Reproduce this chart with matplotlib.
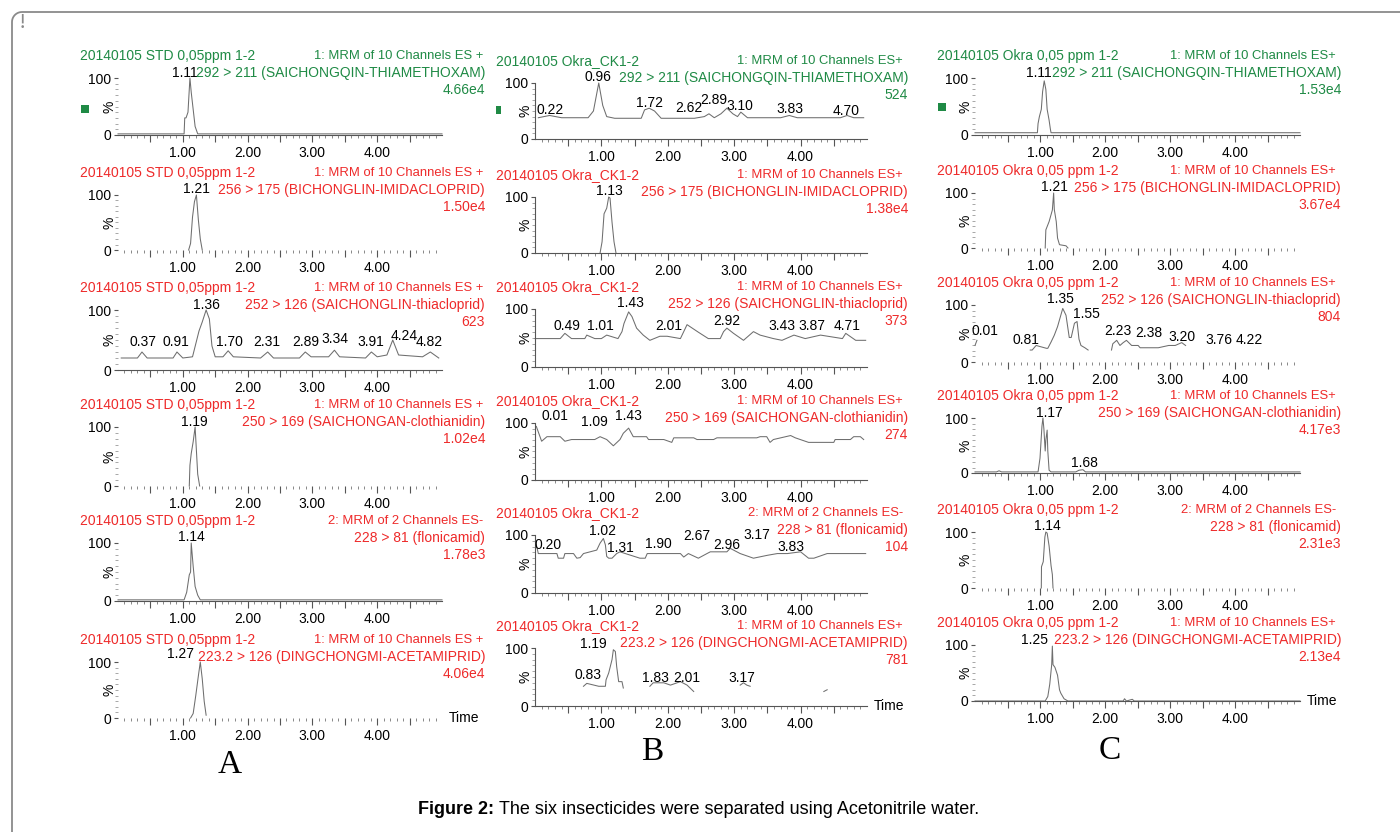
import numpy as np
import matplotlib
matplotlib.use("Agg")
import matplotlib.pyplot as plt
from matplotlib.patches import Rectangle
from matplotlib.lines import Line2D
from matplotlib.text import Annotation

nan = np.nan

# ---- column A : standard 0.05 ppm ----
A1_T = [0.0, 1.02, 1.03, 1.05, 1.08, 1.11, 1.13, 1.16, 1.19, 1.23, 5.0]
A1_Y = [2, 2, 30, 30, 40, 100, 75, 45, 15, 2, 2]
A1_LAB = [("1.11", 1.03, 109)]

A2_T = [1.09, 1.12, 1.15, 1.18, 1.21, 1.24, 1.27, 1.30]
A2_Y = [0, 12, 60, 88, 100, 55, 20, 0]
A2_LAB = [("1.21", 1.21, 110)]

A3_T = [0.05, 0.30, 0.37, 0.45, 0.85, 0.91, 1.00, 1.15, 1.25, 1.30, 1.36, 1.41, 1.45, 1.50,
        1.62, 1.70, 1.78, 2.20, 2.31, 2.40, 2.80, 2.89, 2.98, 3.25, 3.34, 3.42, 3.82, 3.91,
        4.00, 4.15, 4.24, 4.33, 4.70, 4.82, 4.95]
A3_Y = [20, 20, 30, 20, 20, 30, 20, 22, 65, 80, 100, 85, 40, 22, 22, 32, 22, 20, 30, 20,
        20, 30, 22, 22, 33, 22, 20, 30, 22, 25, 50, 25, 22, 30, 20]
A3_LAB = [("0.37", 0.39, 47), ("0.91", 0.90, 47), ("1.36", 1.36, 108), ("1.70", 1.72, 47),
          ("2.31", 2.29, 47), ("2.89", 2.90, 47), ("3.34", 3.34, 51), ("3.91", 3.90, 47),
          ("4.24", 4.42, 57), ("4.82", 4.80, 47)]

A4_T = [1.10, 1.11, 1.13, 1.16, 1.19, 1.21, 1.23, 1.26]
A4_Y = [0, 35, 55, 75, 100, 60, 20, 0]
A4_LAB = [("1.19", 1.18, 109)]

A5_T = [0.0, 1.02, 1.06, 1.10, 1.12, 1.13, 1.16, 1.19, 1.23, 1.27, 5.0]
A5_Y = [2, 2, 15, 45, 50, 100, 60, 25, 10, 2, 2]
A5_LAB = [("1.14", 1.13, 110)]

A6_T = [1.12, 1.16, 1.20, 1.24, 1.27, 1.30, 1.33, 1.36]
A6_Y = [0, 8, 40, 75, 100, 70, 30, 5]
A6_LAB = [("1.27", 0.97, 114)]

# ---- column B : okra blank ----
B1_T = [0.05, 0.22, 0.40, 0.80, 0.88, 0.96, 1.02, 1.08, 1.20, 1.60, 1.65, 1.72, 1.80, 1.90,
        2.40, 2.55, 2.62, 2.70, 2.80, 2.89, 2.98, 3.05, 3.10, 3.20, 3.70, 3.83, 3.95, 4.60,
        4.70, 4.80, 4.95]
B1_Y = [38, 42, 38, 38, 50, 100, 60, 40, 37, 37, 52, 55, 50, 37, 37, 40, 45, 38, 45, 55,
        45, 40, 48, 38, 38, 42, 38, 38, 42, 38, 38]
B1_LAB = [("0.22", 0.23, 51), ("0.96", 0.95, 111), ("1.72", 1.72, 65), ("2.62", 2.31, 55),
          ("2.89", 2.69, 69), ("3.10", 3.09, 59), ("3.83", 3.84, 54), ("4.70", 4.68, 50)]

B2_T = [0.98, 1.01, 1.04, 1.08, 1.11, 1.13, 1.16, 1.19, 1.22]
B2_Y = [0, 20, 70, 80, 100, 98, 55, 20, 0]
B2_LAB = [("1.13", 1.12, 110)]

B3_T = [0.0, 0.38, 0.45, 0.55, 0.75, 0.78, 0.9, 1.0, 1.08, 1.25, 1.31, 1.34, 1.41, 1.46,
        1.53, 1.63, 1.73, 1.88, 1.99, 2.19, 2.24, 2.29, 2.46, 2.61, 2.79, 2.84, 2.89, 2.99,
        3.14, 3.29, 3.39, 3.59, 3.72, 3.90, 4.07, 4.30, 4.63, 4.68, 4.83, 4.98]
B3_Y = [49, 49, 58, 49, 49, 55, 49, 49, 55, 49, 61, 75, 95, 87, 67, 55, 46, 53, 53, 49,
        61, 73, 60, 49, 49, 61, 67, 58, 46, 61, 55, 49, 46, 55, 49, 55, 49, 58, 46, 46]
B3_LAB = [("0.49", 0.48, 70), ("1.01", 0.98, 70), ("1.43", 1.43, 110), ("2.01", 2.01, 70),
          ("2.92", 2.89, 80), ("3.43", 3.72, 70), ("3.87", 4.17, 70), ("4.71", 4.70, 70)]

B4_T = [0.02, 0.10, 0.18, 0.38, 0.45, 0.55, 0.90, 0.98, 1.08, 1.18, 1.28, 1.33, 1.41, 1.48,
        1.68, 1.71, 1.94, 2.06, 2.09, 2.39, 2.44, 2.69, 2.74, 3.34, 3.39, 3.49, 3.54, 3.59,
        3.85, 3.92, 4.12, 4.50, 4.52, 4.75, 4.80, 4.90, 4.95]
B4_Y = [94, 68, 76, 76, 68, 71, 71, 76, 71, 60, 71, 82, 91, 76, 76, 71, 71, 66, 74, 74,
        71, 71, 74, 74, 76, 76, 66, 71, 78, 74, 66, 66, 71, 71, 76, 76, 71]
B4_LAB = [("0.01", 0.30, 112), ("1.09", 0.90, 101), ("1.43", 1.41, 112)]

B5_T = [0.02, 0.05, 0.33, 0.35, 0.43, 0.45, 0.58, 0.63, 0.68, 0.73, 0.83, 0.93, 0.98, 1.03,
        1.06, 1.08, 1.11, 1.16, 1.23, 1.28, 1.36, 1.58, 1.66, 1.69, 1.99, 2.09, 2.19, 2.24,
        2.31, 2.46, 2.59, 2.64, 2.89, 2.94, 3.09, 3.29, 3.50, 3.65, 3.80, 4.00, 4.12, 4.20,
        4.40, 4.65, 4.98]
B5_Y = [83, 68, 68, 60, 60, 68, 68, 60, 61, 68, 71, 74, 86, 94, 83, 63, 60, 60, 68, 71,
        68, 60, 60, 68, 68, 68, 68, 62, 68, 60, 68, 71, 71, 77, 68, 60, 65, 68, 68, 71,
        60, 60, 68, 68, 68]
B5_LAB = [("0.20", 0.20, 83), ("1.02", 1.01, 107), ("1.31", 1.28, 77), ("1.90", 1.86, 84),
          ("2.67", 2.44, 98), ("2.96", 2.89, 83), ("3.17", 3.34, 100), ("3.83", 3.85, 80)]

B6_T = [0.73, 0.78, 0.96, 1.06, 1.07, 1.11, 1.16, 1.18, 1.21, 1.23, 1.26, 1.31, 1.33, nan,
        1.73, 1.78, 1.94, 2.04, 2.19, 2.29, 2.39, nan, 3.09, 3.14, 3.19, 3.24, nan, 4.35, 4.40]
B6_Y = [34, 39, 34, 34, 45, 57, 80, 97, 94, 68, 42, 42, 31, nan,
        34, 40, 40, 36, 42, 36, 25, nan, 36, 40, 36, 34, nan, 25, 28]
B6_LAB = [("0.83", 0.80, 54), ("1.19", 0.88, 107), ("1.83", 1.81, 48), ("2.01", 2.29, 48),
          ("3.17", 3.12, 49)]

# ---- column C : okra spiked 0.05 ppm ----
C1_T = [0.0, 0.96, 0.97, 0.99, 1.02, 1.04, 1.065, 1.09, 1.11, 1.14, 1.16, 1.17, 5.0]
C1_Y = [4, 4, 20, 32, 45, 76, 95, 80, 45, 26, 10, 4, 4]
C1_LAB = [("1.11", 0.98, 109)]

C2_T = [1.08, 1.09, 1.14, 1.19, 1.21, 1.22, 1.25, 1.27, 1.30, 1.40, 1.43]
C2_Y = [0, 33, 48, 69, 100, 70, 48, 18, 6, 4, 0]
C2_LAB = [("1.21", 1.22, 111)]

C3_T = [0.0, 0.03, nan, 0.85, 0.88, 0.94, 1.10, 1.12, 1.17, 1.22, 1.27, 1.32, 1.35, 1.40,
        1.45, 1.48, 1.53, 1.57, 1.60, 1.63, 1.69, 1.74, nan, 2.10, 2.12, 2.18, 2.23, 2.28,
        2.33, 2.41, 2.51, 2.54, 2.61, 2.82, 2.98, 3.08, 3.18, 3.24]
C3_Y = [29, 38, nan, 21, 21, 29, 24, 24, 35, 47, 62, 82, 94, 82, 43, 43, 68, 71, 40, 29,
        25, 21, nan, 21, 32, 38, 29, 34, 38, 29, 29, 25, 25, 25, 29, 29, 34, 29]
C3_LAB = [("0.01", 0.16, 55), ("0.81", 0.78, 39), ("1.35", 1.31, 110), ("1.55", 1.71, 85),
          ("2.23", 2.20, 55), ("2.38", 2.67, 51), ("3.20", 3.18, 44), ("3.76", 3.75, 39),
          ("4.22", 4.22, 39)]

C4_T = [0.0, 0.33, 0.37, 0.41, 0.97, 1.00, 1.03, 1.045, 1.06, 1.08, 1.09, 1.11, 1.12, 1.14,
        1.17, 1.55, 1.60, 1.66, 1.70, 5.0]
C4_Y = [2, 2, 4, 2, 2, 27, 85, 100, 80, 40, 60, 78, 40, 5, 2, 2, 5, 6, 2, 2]
C4_LAB = [("1.17", 1.14, 110), ("1.68", 1.68, 18)]

C5_T = [1.02, 1.023, 1.05, 1.075, 1.09, 1.11, 1.14, 1.17, 1.19, 1.20]
C5_Y = [0, 38, 47, 91, 100, 98, 75, 40, 24, 0]
C5_LAB = [("1.14", 1.12, 110)]

C6_T = [0.0, 1.08, 1.12, 1.15, 1.18, 1.19, 1.20, 1.23, 1.27, 1.30, 1.32, 1.37, 1.43, 2.28,
        2.30, 2.33, 2.42, 2.45, 2.48, 5.0]
C6_Y = [0, 0, 8, 30, 65, 98, 65, 60, 46, 20, 14, 4, 0, 0, 4, 0, 3, 0, 0, 0]
C6_LAB = [("1.25", 0.91, 109)]

COMPOUNDS = ["292 > 211 (SAICHONGQIN-THIAMETHOXAM)",
             "256 > 175 (BICHONGLIN-IMIDACLOPRID)",
             "252 > 126 (SAICHONGLIN-thiacloprid)",
             "250 > 169 (SAICHONGAN-clothianidin)",
             "228 > 81 (flonicamid)",
             "223.2 > 126 (DINGCHONGMI-ACETAMIPRID)"]
A_SCALE = ["4.66e4", "1.50e4", "623", "1.02e4", "1.78e3", "4.06e4"]
B_SCALE = ["524", "1.38e4", "373", "274", "104", "781"]
C_SCALE = ["1.53e4", "3.67e4", "804", "4.17e3", "2.31e3", "2.13e4"]
SAMPLES = ["20140105 STD 0,05ppm 1-2", "20140105 Okra_CK1-2", "20140105 Okra 0,05 ppm 1-2"]
LETTERS = ["A", "B", "C"]

# ---- layout (pixels) ----
W, H = 1400, 832
GREEN = "#1f8a45"
RED = "#ee2a2a"
TRACE = "#6e6e6e"
FAM = ["Liberation Sans", "DejaVu Sans"]
FS = 10
FS_MRM = 9.4

columns = [
    dict(left=118, right=442, name_x=80, txt_r=485, mrm_r=483, es="ES +",
         rows=[(135, 78), (250, 195), (370, 310), (486, 427), (601, 543), (718, 662)],
         data=[(A1_T, A1_Y, A1_LAB), (A2_T, A2_Y, A2_LAB), (A3_T, A3_Y, A3_LAB),
               (A4_T, A4_Y, A4_LAB), (A5_T, A5_Y, A5_LAB), (A6_T, A6_Y, A6_LAB)],
         scale=A_SCALE, bottom=[True, False, True, False, True, False], leftspine=False,
         square=(81, 105, 8, 8), letter=(230, 765)),
    dict(left=535, right=867, name_x=496, txt_r=908, mrm_r=903, es="ES+",
         rows=[(139, 83), (253, 197), (367, 309), (480, 423), (593, 535), (706, 648)],
         data=[(B1_T, B1_Y, B1_LAB), (B2_T, B2_Y, B2_LAB), (B3_T, B3_Y, B3_LAB),
               (B4_T, B4_Y, B4_LAB), (B5_T, B5_Y, B5_LAB), (B6_T, B6_Y, B6_LAB)],
         scale=B_SCALE, bottom=[True] * 6, leftspine=True,
         square=(496, 106, 5, 8), letter=(652, 752)),
    dict(left=975, right=1300, name_x=937, txt_r=1341, mrm_r=1336, es="ES+",
         rows=[(135, 78), (248, 193), (362, 305), (473, 418), (588, 532), (701, 645)],
         data=[(C1_T, C1_Y, C1_LAB), (C2_T, C2_Y, C2_LAB), (C3_T, C3_Y, C3_LAB),
               (C4_T, C4_Y, C4_LAB), (C5_T, C5_Y, C5_LAB), (C6_T, C6_Y, C6_LAB)],
         scale=C_SCALE, bottom=[True, False, False, True, False, True], leftspine=False,
         square=(938, 103, 8, 8), letter=(1110, 751)),
]

fig = plt.figure(figsize=(W / 100, H / 100), dpi=100)


def ftext(x, y, s, **kw):
    kw.setdefault("family", FAM)
    kw.setdefault("fontsize", FS)
    return fig.text(x / W, 1 - y / H, s, **kw)


for ci, col in enumerate(columns):
    for ri, (zero_y, top_y) in enumerate(col["rows"]):
        t, y, labs = col["data"][ri]
        ax = fig.add_axes([col["left"] / W, 1 - zero_y / H,
                           (col["right"] - col["left"]) / W, (zero_y - top_y) / H])
        ax.set_xlim(0, 5.0)
        ax.set_ylim(0, 100)
        ax.patch.set_alpha(0)
        ax.plot(t, y, color=TRACE, lw=0.75, clip_on=False)
        for txt, lx, ly in labs:
            ax.text(lx, ly, txt, ha="center", va="center", family=FAM, fontsize=FS,
                    color="black", clip_on=False)

        for s in ("top", "right"):
            ax.spines[s].set_visible(False)
        ax.spines["left"].set_visible(col["leftspine"])
        ax.spines["bottom"].set_visible(col["bottom"][ri])
        for s in ("left", "bottom"):
            ax.spines[s].set_color("#555555")
            ax.spines[s].set_linewidth(0.8)

        major = np.arange(0.5, 5.0, 0.5)
        ax.set_xticks(major)
        ax.set_xticklabels([f"{m:.2f}" if m == int(m) else "" for m in major])
        ax.set_xticks(np.arange(0.1, 5.0, 0.1), minor=True)
        ax.set_yticks([0, 100])
        ax.set_yticklabels(["0", "100"])
        ax.set_yticks(np.arange(10, 100, 10), minor=True)
        ax.tick_params(axis="x", which="major", length=5, width=0.8, color="#555555",
                       pad=3, labelsize=FS)
        ax.tick_params(axis="x", which="minor", length=2.5, width=0.7, color="#888888")
        ax.tick_params(axis="y", which="major", length=3, width=0.8, color="#555555",
                       pad=2, labelsize=FS)
        ax.tick_params(axis="y", which="minor", length=2, width=0.6, color="#999999")
        for lab in ax.get_xticklabels() + ax.get_yticklabels():
            lab.set_family(FAM)

        ax.annotate("%", xy=(0, 0.5), xycoords="axes fraction", xytext=(-9, 0),
                    textcoords="offset pixels", rotation=90, ha="center", va="center",
                    family=FAM, fontsize=FS)

        color = GREEN if ri == 0 else RED
        mrm = "2: MRM of 2 Channels ES-" if ri == 4 else f"1: MRM of 10 Channels {col['es']}"
        hy = top_y - 22
        ftext(col["name_x"], hy, SAMPLES[ci], color=color, ha="left", va="center")
        ftext(col["mrm_r"], hy, mrm, color=color, ha="right", va="center", fontsize=FS_MRM)
        ftext(col["txt_r"], hy + 17, COMPOUNDS[ri], color=color, ha="right", va="center")
        ftext(col["txt_r"], hy + 34, col["scale"][ri], color=color, ha="right", va="center")

        if ri == 5:
            ax.annotate("Time", xy=(1, 0), xycoords="axes fraction", xytext=(7, 0),
                        textcoords="offset pixels", ha="left", va="center",
                        family=FAM, fontsize=FS)

    sx, sy, sw, sh = col["square"]
    fig.add_artist(Rectangle((sx / W, 1 - (sy + sh) / H), sw / W, sh / H,
                             transform=fig.transFigure, color=GREEN, lw=0))
    lx, ly = col["letter"]
    ftext(lx, ly, LETTERS[ci], family="Liberation Serif", fontsize=24, ha="center", va="center")

# frame round the panels
ang = np.linspace(np.pi, np.pi / 2, 12)
fx = [12, 12] + list(22 + 10 * np.cos(ang)) + [1400]
fy = [832, 22] + list(22 - 10 * np.sin(ang)) + [12]
fig.add_artist(Line2D(np.array(fx) / W, 1 - np.array(fy) / H, transform=fig.transFigure,
                      color="#8a8a8a", lw=1.3))
ftext(22, 24, "!", color="#8a8a8a", fontsize=16, ha="center", va="center",
      family="Liberation Serif")

cap = ftext(418, 810, "Figure 2:", fontweight="bold", ha="left", va="center", fontsize=13)
fig.add_artist(Annotation("The six insecticides were separated using Acetonitrile water.",
                          xy=(1, 0.5), xycoords=cap, xytext=(5, 0), textcoords="offset pixels",
                          ha="left", va="center", family=FAM, fontsize=13))

fig.savefig("out.png", dpi=100)
